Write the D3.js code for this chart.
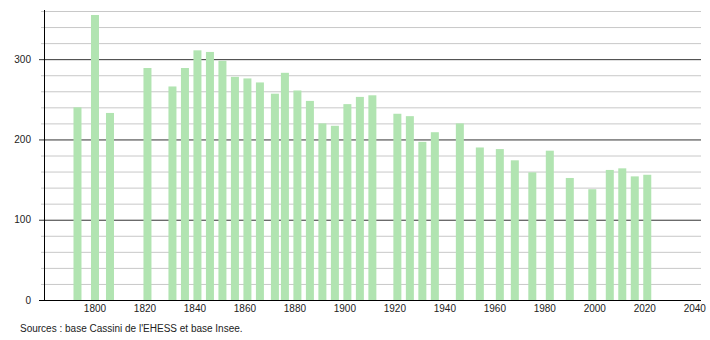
<!DOCTYPE html>
<html>
<head>
<meta charset="utf-8">
<script src="https://cdn.jsdelivr.net/npm/d3@7"></script>
<style>
  body { margin: 0; background: #fff; }
  text { font-family: "Liberation Sans", Arial, sans-serif; fill: #222; }
</style>
</head>
<body>
<div id="chart"></div>
<script>
const years = [1793, 1800, 1806, 1821, 1831, 1836, 1841, 1846, 1851, 1856, 1861, 1866, 1872, 1876,
               1881, 1886, 1891, 1896, 1901, 1906, 1911, 1921, 1926, 1931, 1936, 1946, 1954, 1962,
               1968, 1975, 1982, 1990, 1999, 2006, 2011, 2016, 2021];
const population = [240, 355, 233, 289, 266, 289, 311, 309, 298, 278, 276, 271, 257, 283,
                    261, 248, 220, 217, 244, 253, 255, 232, 229, 197, 209, 220, 190, 188,
                    174, 159, 186, 152, 138, 162, 164, 154, 156];
const xTicks = [1800, 1820, 1840, 1860, 1880, 1900, 1920, 1940, 1960, 1980, 2000, 2020, 2040];
const yTicks = [0, 100, 200, 300];
const source = "Sources : base Cassini de l'EHESS et base Insee.";

const width = 710, height = 340;
const svg = d3.select("#chart").append("svg")
    .attr("width", width)
    .attr("height", height);

const x = d3.scaleLinear().domain([1780, 2042.5]).range([45, 701]);
const y = d3.scaleLinear().domain([0, 360]).range([300, 11]);

// grid lines every 20
const minor = d3.range(20, 361, 20).filter(v => v % 100 !== 0);
svg.append("g").selectAll("line").data(minor).enter()
    .append("line")
    .attr("x1", 41).attr("x2", 701)
    .attr("y1", d => y(d) + 0.5).attr("y2", d => y(d) + 0.5)
    .attr("stroke", "#c8c8c8");

svg.append("g").selectAll("line").data(yTicks.filter(d => d > 0)).enter()
    .append("line")
    .attr("x1", 39).attr("x2", 701)
    .attr("y1", d => y(d) + 0.5).attr("y2", d => y(d) + 0.5)
    .attr("stroke", "#333");

// bars
svg.append("g").selectAll("rect").data(years).enter()
    .append("rect")
    .attr("x", d => x(d) - 4)
    .attr("width", 8)
    .attr("y", (d, i) => y(population[i]))
    .attr("height", (d, i) => y(0) - y(population[i]))
    .attr("fill", "#b1e4b1");

// axes
svg.append("line")
    .attr("x1", 44.5).attr("x2", 44.5)
    .attr("y1", 10).attr("y2", 300)
    .attr("stroke", "#000");
svg.append("line")
    .attr("x1", 39).attr("x2", 701)
    .attr("y1", 300.5).attr("y2", 300.5)
    .attr("stroke", "#000");

svg.append("g").selectAll("text").data(yTicks).enter()
    .append("text")
    .attr("x", 31)
    .attr("y", d => y(d) + 3.5)
    .attr("text-anchor", "end")
    .attr("font-size", 10)
    .text(d => d);

svg.append("g").selectAll("text").data(xTicks).enter()
    .append("text")
    .attr("x", d => x(d))
    .attr("y", 312)
    .attr("text-anchor", "middle")
    .attr("font-size", 10)
    .text(d => d);

svg.append("text")
    .attr("x", 20)
    .attr("y", 332)
    .attr("font-size", 10)
    .text(source);
</script>
</body>
</html>
